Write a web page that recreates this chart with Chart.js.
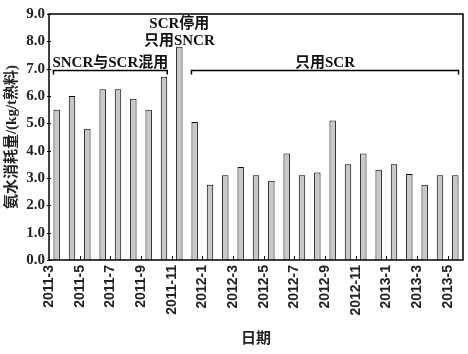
<!DOCTYPE html>
<html>
<head>
<meta charset="utf-8">
<script src="https://cdn.jsdelivr.net/npm/chart.js@4"></script>
<style>
  html, body { margin: 0; padding: 0; background: #fff; }
  #wrap { width: 468px; height: 354px; }
</style>
</head>
<body>
<div id="wrap"><canvas id="myChart"></canvas></div>
<script>
// months on the x axis
const months = [
  '2011-3', '2011-4', '2011-5', '2011-6', '2011-7', '2011-8', '2011-9', '2011-10', '2011-11', '2011-12',
  '2012-1', '2012-2', '2012-3', '2012-4', '2012-5', '2012-6', '2012-7', '2012-8', '2012-9', '2012-10',
  '2012-11', '2012-12', '2013-1', '2013-2', '2013-3', '2013-4', '2013-5',
];
// ammonia water consumption, kg/t clinker
const consumption = [
  5.5, 6.0, 4.8, 6.25, 6.25, 5.9, 5.5, 6.7, 7.8, 5.05,
  2.75, 3.1, 3.4, 3.1, 2.9, 3.9, 3.1, 3.2, 5.1, 3.5,
  3.9, 3.3, 3.5, 3.15, 2.75, 3.1, 3.1,
];
const yTicks = [0, 1, 2, 3, 4, 5, 6, 7, 8, 9];

// operating phases (index range of bars)
const phaseText = [['SNCR与SCR混用'], ['SCR停用', '只用SNCR'], ['只用SCR']];
const phaseFrom = [0, 8, 9];
const phaseTo = [7, 8, 26];
const phaseBracket = [true, false, true];

const serif = '"Liberation Serif", "Noto Sans CJK SC", serif';
const sans = '"Noto Sans CJK SC", "Liberation Sans", sans-serif';

const frameAndMarks = {
  id: 'frameAndMarks',
  afterDatasetsDraw(chart) {
    const ctx = chart.ctx;
    const area = chart.chartArea;
    const x = chart.scales.x;
    const y = chart.scales.y;
    const bars = chart.getDatasetMeta(0).data;
    ctx.save();
    ctx.strokeStyle = '#000';
    ctx.lineWidth = 1.5;
    ctx.strokeRect(area.left, area.top, area.right - area.left, area.bottom - area.top);

    // inside ticks on x axis, every two months
    ctx.lineWidth = 1;
    ctx.beginPath();
    for (let i = 2; i < months.length; i += 2) {
      const px = Math.round((x.getPixelForValue(i - 1) + x.getPixelForValue(i)) / 2) + 0.5;
      ctx.moveTo(px, area.bottom);
      ctx.lineTo(px, area.bottom - 4);
    }
    // small ticks on y axis
    yTicks.forEach(v => {
      const py = Math.round(y.getPixelForValue(v)) + 0.5;
      ctx.moveTo(area.left - 2, py);
      ctx.lineTo(area.left + 2, py);
    });
    ctx.stroke();

    // phase brackets and labels
    const by = Math.round(y.getPixelForValue(6.95)) + 0.5;
    ctx.font = 'bold 15px ' + serif;
    ctx.fillStyle = '#111';
    ctx.textAlign = 'center';
    ctx.textBaseline = 'alphabetic';
    phaseText.forEach((lines, k) => {
      const b0 = bars[phaseFrom[k]];
      const b1 = bars[phaseTo[k]];
      const x0 = b0.x - b0.width / 2;
      const x1 = b1.x + b1.width / 2;
      const cx = (x0 + x1) / 2;
      if (phaseBracket[k]) {
        ctx.lineWidth = 1.5;
        ctx.beginPath();
        ctx.moveTo(x0, by + 4);
        ctx.lineTo(x0, by);
        ctx.lineTo(x1, by);
        ctx.lineTo(x1, by + 4);
        ctx.stroke();
        ctx.fillText(lines[0], cx, by - 3.5);
      } else {
        const base = y.getPixelForValue(8.5);
        lines.forEach((t, j) => ctx.fillText(t, cx, base + j * 17));
      }
    });
    ctx.restore();
  },
};

const ctx = document.getElementById('myChart').getContext('2d');

new Chart(ctx, {
  type: 'bar',
  data: {
    labels: months,
    datasets: [
      {
        data: consumption,
        backgroundColor: '#c8c8c8',
        borderColor: '#000',
        borderWidth: 1,
        categoryPercentage: 1,
        barPercentage: 0.42,
      },
    ],
  },
  options: {
    responsive: true,
    maintainAspectRatio: false,
    animation: false,
    layout: {
      padding: { top: 14, right: 5, left: 0, bottom: 0 },
    },
    plugins: {
      legend: { display: false },
      tooltip: { enabled: false },
    },
    scales: {
      x: {
        grid: { display: false, drawTicks: false },
        border: { display: false },
        afterFit: s => {
          s.height = 94;
          s.paddingLeft = 0;
          s.paddingRight = 0;
        },
        ticks: {
          autoSkip: false,
          maxRotation: 90,
          minRotation: 90,
          padding: 5,
          labelOffset: -7.5,
          color: '#222',
          font: { family: '"Liberation Sans", sans-serif', size: 14, weight: 'bold' },
          callback: (v, i) => (i % 2 === 0 ? months[i] : ''),
        },
        title: {
          display: true,
          text: '日期',
          color: '#222',
          font: { family: sans, size: 15, weight: 'bold' },
          padding: { top: 0, bottom: 8 },
        },
      },
      y: {
        min: 0,
        max: 9,
        grid: { display: false, drawTicks: false },
        border: { display: false },
        afterFit: s => {
          s.width = 49;
          s.paddingTop = 0;
          s.paddingBottom = 0;
        },
        ticks: {
          stepSize: 1,
          padding: 4,
          color: '#222',
          font: { family: serif, size: 15, weight: 'bold' },
          callback: v => v.toFixed(1),
        },
        title: {
          display: true,
          text: '氨水消耗量/(kg/t熟料)',
          color: '#222',
          font: { family: serif, size: 15, weight: 'bold' },
          padding: { top: 3, bottom: 0 },
        },
      },
    },
  },
  plugins: [frameAndMarks],
});
</script>
</body>
</html>
